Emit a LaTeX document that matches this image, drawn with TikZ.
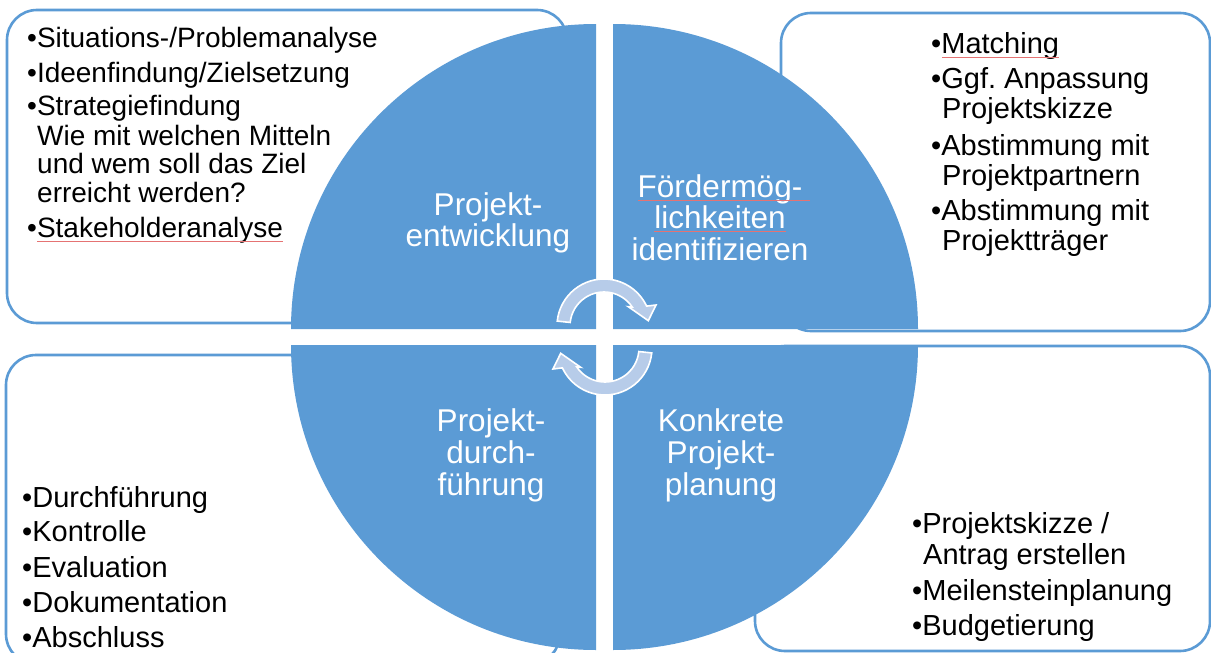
\documentclass[tikz,border=0pt]{standalone}
\usepackage{fontspec}
\setmainfont{Liberation Sans}
\usetikzlibrary{calc}
\definecolor{qblue}{HTML}{5B9BD5}
\definecolor{arrowfill}{HTML}{B7CCE9}
\definecolor{spellred}{HTML}{E57373}
\frenchspacing
\tikzset{
  infobox/.style={draw=qblue, line width=2.6pt, rounded corners=30pt, fill=white},
  quadrant/.style={fill=qblue, draw=none},
  cycarrow/.style={fill=arrowfill, draw=white, line width=1.6pt, line join=miter},
  txtA/.style={anchor=base west, inner sep=0pt, text=black, font=\fontsize{28}{29}\selectfont},
  txtB/.style={anchor=base west, inner sep=0pt, text=black, font=\fontsize{29}{31}\selectfont},
  lab/.style={anchor=base, inner sep=0pt, text=white, font=\fontsize{31.5}{32}\selectfont},
  spell/.style={draw=spellred, line width=0.6pt}
}
\begin{document}
\begin{tikzpicture}[x=1pt,y=1pt]
\useasboundingbox (0,0) rectangle (1211,-653);
\fill[white] (0,0) rectangle (1211,-653);

% info boxes
\draw[infobox] (7,-10) rectangle (567,-323);
\draw[infobox] (781,-13) rectangle (1210,-331);
\draw[infobox] (6,-355) rectangle (560,-664);
\draw[infobox] (755,-346) rectangle (1210,-651);

% quadrants
\fill[quadrant] (596,-329) -- ++(-305,0) arc[start angle=180,end angle=90,radius=305] -- cycle;
\fill[quadrant] (613,-329) -- ++(0,305) arc[start angle=90,end angle=0,radius=305] -- cycle;
\fill[quadrant] (596,-345) -- ++(-305,0) arc[start angle=180,end angle=270,radius=305] -- cycle;
\fill[quadrant] (613,-345) -- ++(305,0) arc[start angle=0,end angle=-90,radius=305] -- cycle;

% circular arrows
\draw[cycarrow] (604,-326) ++(174:47) arc[start angle=174,end angle=25,radius=47]
  -- (656,-305) -- (648.3,-320.7) -- (628.3,-306.7)
  -- ($(604,-326)+(34:34)$) arc[start angle=34,end angle=174,radius=34] -- cycle;
\begin{scope}[rotate around={180:(604.5,-337)}]
\draw[cycarrow] (604,-326) ++(174:47) arc[start angle=174,end angle=25,radius=47]
  -- (656,-305) -- (648.3,-320.7) -- (628.3,-306.7)
  -- ($(604,-326)+(34:34)$) arc[start angle=34,end angle=174,radius=34] -- cycle;
\end{scope}

% quadrant labels
\node[lab] (q1a) at (488,-215) {Projekt-};
\node[lab] (q1b) at (488,-246) {entwicklung};
\node[lab] (q2a) at (720,-197) {Fördermög-};
\node[lab] (q2b) at (720,-228) {lichkeiten};
\node[lab] (q2c) at (720,-260) {identifizieren};
\node[lab] (q3a) at (491,-431) {Projekt-};
\node[lab] (q3b) at (491,-463) {durch-};
\node[lab] (q3c) at (491,-495) {führung};
\node[lab] (q4a) at (721,-431) {Konkrete};
\node[lab] (q4b) at (721,-463) {Projekt-};
\node[lab] (q4c) at (721,-495) {planung};

% top-left box text
\node[txtA] (tl1) at (27,-47) {•Situations-/Problemanalyse};
\node[txtA] (tl2) at (27,-82) {•Ideenfindung/Zielsetzung};
\node[txtA] (tl3) at (27,-115) {•Strategiefindung};
\node[txtA] (tl4) at (37,-145) {Wie mit welchen Mitteln};
\node[txtA] (tl5) at (37,-173) {und wem soll das Ziel};
\node[txtA] (tl6) at (37,-202) {erreicht werden?};
\node[txtA] (tl7) at (27,-237) {•Stakeholderanalyse};

% top-right box text
\node[txtB] (tr1) at (931,-53) {•Matching};
\node[txtB] (tr2) at (931,-88) {•Ggf. Anpassung};
\node[txtB] (tr3) at (942,-118) {Projektskizze};
\node[txtB] (tr4) at (931,-155) {•Abstimmung mit};
\node[txtB] (tr5) at (942,-185) {Projektpartnern};
\node[txtB] (tr6) at (931,-220) {•Abstimmung mit};
\node[txtB] (tr7) at (942,-250) {Projektträger};

% bottom-left box text
\node[txtB] (bl1) at (22,-507) {•Durchführung};
\node[txtB] (bl2) at (22,-541) {•Kontrolle};
\node[txtB] (bl3) at (22,-577) {•Evaluation};
\node[txtB] (bl4) at (22,-612) {•Dokumentation};
\node[txtB] (bl5) at (22,-647) {•Abschluss};

% bottom-right box text
\node[txtB] (br1) at (912,-533) {•Projektskizze /};
\node[txtB] (br2) at (923,-564) {Antrag erstellen};
\node[txtB] (br3) at (912,-600) {•Meilensteinplanung};
\node[txtB] (br4) at (912,-635) {•Budgetierung};

% spell-check underlines
\draw[spell] ($(tl7.base west)+(10,-4)$) -- ($(tl7.base east)+(0,-4)$);
\draw[spell] ($(tr1.base west)+(11,-4)$) -- ($(tr1.base east)+(0,-4)$);
\draw[spell] ($(q2a.base west)+(0,-3)$) -- ($(q2a.base east)+(8,-3)$);
\draw[spell] ($(q2b.base west)+(0,-3)$) -- ($(q2b.base east)+(0,-3)$);
\end{tikzpicture}
\end{document}
